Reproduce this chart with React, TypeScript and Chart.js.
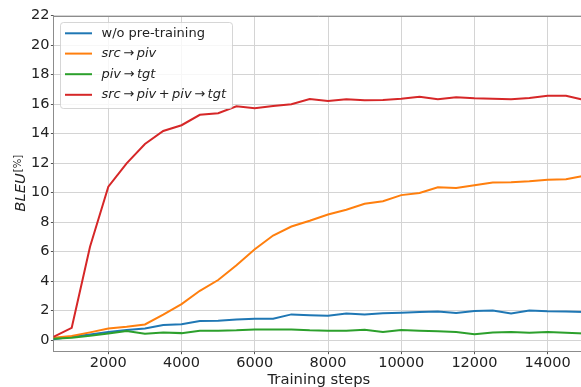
import React, { useEffect, useRef } from "react";
import { Chart, registerables } from "chart.js";

Chart.register(...registerables);

// ---------------- data ----------------
const steps = [
  500, 1000, 1500, 2000, 2500, 3000, 3500, 4000, 4500, 5000,
  5500, 6000, 6500, 7000, 7500, 8000, 8500, 9000, 9500, 10000,
  10500, 11000, 11500, 12000, 12500, 13000, 13500, 14000, 14500, 15000,
];

const woPretraining = [
  0.05, 0.22, 0.38, 0.54, 0.68, 0.79, 1.02, 1.08, 1.29, 1.31,
  1.40, 1.45, 1.45, 1.74, 1.69, 1.65, 1.80, 1.74, 1.81, 1.85,
  1.90, 1.94, 1.83, 1.97, 2.01, 1.81, 2.01, 1.95, 1.93, 1.90,
];

const srcPiv = [
  0.16, 0.27, 0.52, 0.79, 0.90, 1.06, 1.72, 2.44, 3.34, 4.07,
  5.07, 6.16, 7.09, 7.70, 8.09, 8.52, 8.84, 9.24, 9.42, 9.83,
  9.97, 10.36, 10.31, 10.50, 10.68, 10.70, 10.77, 10.88, 10.90, 11.15,
];

const pivTgt = [
  0.09, 0.16, 0.29, 0.45, 0.61, 0.43, 0.52, 0.47, 0.63, 0.63,
  0.66, 0.72, 0.72, 0.72, 0.66, 0.63, 0.63, 0.70, 0.54, 0.68,
  0.63, 0.59, 0.54, 0.39, 0.52, 0.54, 0.50, 0.54, 0.50, 0.45,
];

const srcPivPivTgt = [
  0.22, 0.83, 6.33, 10.40, 11.99, 13.30, 14.18, 14.57, 15.28, 15.38,
  15.85, 15.72, 15.88, 15.99, 16.35, 16.21, 16.33, 16.26, 16.28, 16.37,
  16.51, 16.33, 16.47, 16.40, 16.37, 16.33, 16.42, 16.57, 16.57, 16.28,
];

const xTicks = [2000, 4000, 6000, 8000, 10000, 12000, 14000];
const yTicks = [0, 2, 4, 6, 8, 10, 12, 14, 16, 18, 20, 22];

const seriesColors = ["#1f77b4", "#ff7f0e", "#2ca02c", "#d62728"];

type Token = { t: string; i?: boolean; op?: boolean };
const legendLabels: Token[][] = [
  [{ t: "w/o pre-training" }],
  [{ t: "src", i: true }, { t: "→", op: true }, { t: "piv", i: true }],
  [{ t: "piv", i: true }, { t: "→", op: true }, { t: "tgt", i: true }],
  [
    { t: "src", i: true }, { t: "→", op: true }, { t: "piv", i: true },
    { t: "+", op: true },
    { t: "piv", i: true }, { t: "→", op: true }, { t: "tgt", i: true },
  ],
];

const xTitle = "Training steps";
const yTitleMain = "BLEU";
const yTitleSup = "[%]";

const FONT = '"DejaVu Sans"';
const TEXT = "#222222";

function drawTokens(ctx: CanvasRenderingContext2D, tokens: Token[], x: number, y: number, size: number) {
  let cx = x;
  for (const tk of tokens) {
    ctx.font = `${tk.i ? "italic " : ""}${size}px ${FONT}`;
    if (tk.op) cx += 2.5;
    ctx.fillText(tk.t, cx, y);
    cx += ctx.measureText(tk.t).width;
    if (tk.op) cx += 2.5;
  }
}

const decorPlugin = {
  id: "decor",
  afterDraw(chart: any) {
    const ctx: CanvasRenderingContext2D = chart.ctx;
    const ca = chart.chartArea;
    ctx.save();
    // top spine
    ctx.strokeStyle = "#8c8c8c";
    ctx.lineWidth = 1;
    ctx.beginPath();
    ctx.moveTo(ca.left, Math.round(ca.top) + 0.5);
    ctx.lineTo(ca.right, Math.round(ca.top) + 0.5);
    ctx.stroke();

    // legend
    const lx = 60.5, ly = 22.5, lw = 172, lh = 86, r = 3;
    ctx.beginPath();
    ctx.moveTo(lx + r, ly);
    ctx.lineTo(lx + lw - r, ly);
    ctx.quadraticCurveTo(lx + lw, ly, lx + lw, ly + r);
    ctx.lineTo(lx + lw, ly + lh - r);
    ctx.quadraticCurveTo(lx + lw, ly + lh, lx + lw - r, ly + lh);
    ctx.lineTo(lx + r, ly + lh);
    ctx.quadraticCurveTo(lx, ly + lh, lx, ly + lh - r);
    ctx.lineTo(lx, ly + r);
    ctx.quadraticCurveTo(lx, ly, lx + r, ly);
    ctx.closePath();
    ctx.fillStyle = "rgba(255,255,255,0.8)";
    ctx.fill();
    ctx.strokeStyle = "rgba(204,204,204,0.8)";
    ctx.stroke();

    const rows = [33.3, 53.6, 74.2, 94.8];
    ctx.textBaseline = "middle";
    ctx.textAlign = "left";
    for (let k = 0; k < legendLabels.length; k++) {
      ctx.strokeStyle = seriesColors[k];
      ctx.lineWidth = 2;
      ctx.beginPath();
      ctx.moveTo(65, rows[k]);
      ctx.lineTo(92, rows[k]);
      ctx.stroke();
      ctx.fillStyle = TEXT;
      drawTokens(ctx, legendLabels[k], 101.5, rows[k], 13);
    }

    // x title
    ctx.fillStyle = TEXT;
    ctx.font = `14.8px ${FONT}`;
    ctx.textAlign = "center";
    ctx.textBaseline = "alphabetic";
    ctx.fillText(xTitle, (ca.left + ca.right) / 2, 383.5);

    // y title
    ctx.save();
    ctx.translate(25, (ca.top + ca.bottom) / 2 + 28);
    ctx.rotate(-Math.PI / 2);
    ctx.textAlign = "left";
    ctx.font = `italic 14.8px ${FONT}`;
    ctx.fillText(yTitleMain, 0, 0);
    const w = ctx.measureText(yTitleMain).width;
    ctx.font = `10px ${FONT}`;
    ctx.fillText(yTitleSup, w + 1, -4.5);
    ctx.restore();

    ctx.restore();
  },
};

export default function App() {
  const ref = useRef<HTMLCanvasElement | null>(null);

  useEffect(() => {
    if (!ref.current) return;
    const mk = (label: string, data: number[], color: string, order: number) => ({
      label,
      data: steps.map((s, i) => ({ x: s, y: data[i] })),
      borderColor: color,
      backgroundColor: color,
      borderWidth: 2,
      pointRadius: 0,
      tension: 0,
      order,
    });
    const chart = new Chart(ref.current, {
      type: "line",
      data: {
        datasets: [
          mk("w/o pre-training", woPretraining, seriesColors[0], 4),
          mk("src→piv", srcPiv, seriesColors[1], 3),
          mk("piv→tgt", pivTgt, seriesColors[2], 2),
          mk("src→piv+piv→tgt", srcPivPivTgt, seriesColors[3], 1),
        ],
      },
      options: {
        animation: false,
        responsive: false,
        devicePixelRatio: 1,
        layout: { padding: { top: 15.7, right: 15.7, left: 0, bottom: 0 } },
        plugins: { legend: { display: false }, tooltip: { enabled: false } },
        scales: {
          x: {
            type: "linear",
            min: 500,
            max: 15000,
            afterBuildTicks: (s: any) => { s.ticks = xTicks.map((v) => ({ value: v })); },
            afterFit: (s: any) => { s.height = 35.3; },
            grid: { color: "#d4d4d4", lineWidth: 1, tickLength: 2.5, tickColor: "#555" },
            border: { display: true, color: "#8c8c8c", width: 1 },
            ticks: {
              autoSkip: false,
              maxRotation: 0,
              padding: 0,
              color: TEXT,
              font: { family: "DejaVu Sans", size: 14.5 },
              callback: (v: any) => String(v),
            },
          },
          y: {
            type: "linear",
            min: -0.79,
            max: 22,
            afterBuildTicks: (s: any) => { s.ticks = yTicks.map((v) => ({ value: v })); },
            afterFit: (s: any) => { s.width = 53.4; },
            grid: { color: "#d4d4d4", lineWidth: 1, tickLength: 2.5, tickColor: "#555" },
            border: { display: true, color: "#8c8c8c", width: 1 },
            ticks: {
              autoSkip: false,
              padding: 1.5,
              color: TEXT,
              font: { family: "DejaVu Sans", size: 14.5 },
              callback: (v: any) => String(v),
            },
          },
        },
      },
      plugins: [decorPlugin],
    } as any);
    return () => chart.destroy();
  }, []);

  return (
    <div style={{ position: "fixed", left: 0, top: 0, width: 581, height: 387, overflow: "hidden", background: "#fff" }}>
      <canvas ref={ref} width={600} height={387} style={{ width: 600, height: 387, display: "block" }} />
    </div>
  );
}
